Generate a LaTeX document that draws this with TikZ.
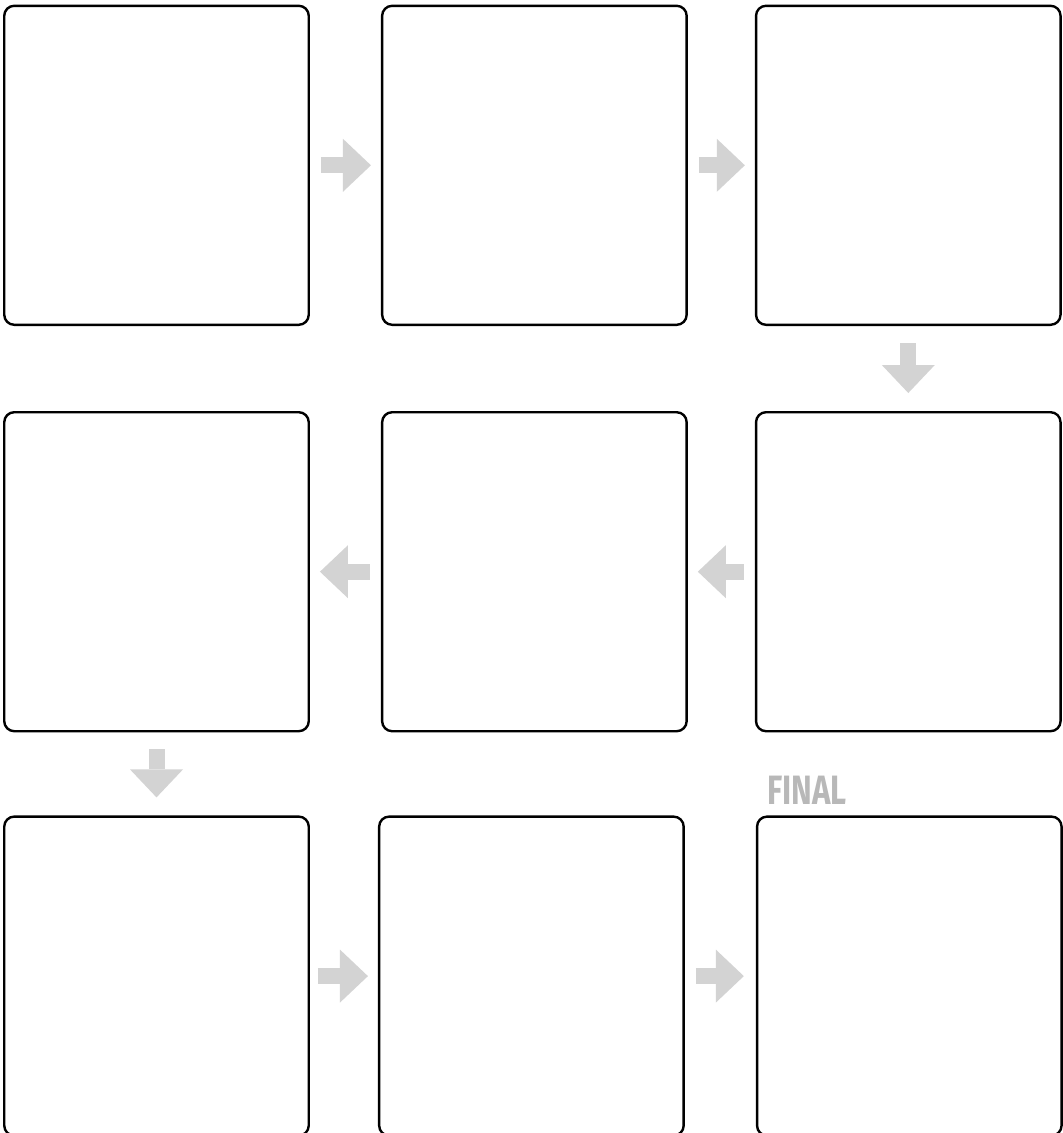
\documentclass[tikz,border=0pt]{standalone}
\usepackage{fontspec}
\usepackage{tikz}
\usetikzlibrary{arrows.meta,positioning}
\newfontfamily\labelfont{Fira Sans}[FakeStretch=0.76]
\definecolor{cFrame}{HTML}{000000}
\definecolor{cStep}{HTML}{D3D3D3}
\definecolor{cLabel}{HTML}{B8B8B8}
\tikzset{
  panel/.style={draw=cFrame, line width=2.4pt, rounded corners=10pt, fill=white,
                minimum width=304.5pt, minimum height=319pt, inner sep=0pt},
  stepflow/.style={draw=cStep, line width=16pt,
                   -{Triangle[length=28pt, width=53pt, line width=0pt, fill=cStep]}},
  hflow/.style={stepflow, shorten <=11pt, shorten >=10pt},
  vflow/.style={stepflow, shorten <=17pt, shorten >=18pt},
  tag/.style={font=\labelfont\bfseries\fontsize{41}{41}\selectfont, text=cLabel, inner sep=0pt},
}

\begin{document}
\begin{tikzpicture}[x=1pt,y=1pt]
  \useasboundingbox (0,0) rectangle (1063,-1133);
  % first row
  \node[panel] (p1) at (156.5,-165.3) {};
  \node[panel, right=71pt of p1] (p2) {};
  \node[panel, right=67pt of p2] (p3) {};
  % second row
  \node[panel, below=85pt of p3] (p4) {};
  \node[panel, left=67pt of p4] (p5) {};
  \node[panel, left=71pt of p5] (p6) {};
  % third row
  \node[panel, below=83pt of p6] (p7) {};
  \node[panel, right=68pt of p7] (p8) {};
  \node[panel, right=71pt of p8] (p9) {};
  \node[tag, anchor=south west] (final) at ([xshift=11pt,yshift=11pt]p9.north west) {FINAL};
  % arrows
  \draw[hflow] (p1) -- (p2);
  \draw[hflow] (p2) -- (p3);
  \draw[vflow] (p3) -- (p4);
  \draw[hflow] (p4) -- (p5);
  \draw[hflow] (p5) -- (p6);
  \draw[vflow] (p6) -- (p7);
  \draw[hflow, shorten <=8pt] (p7) -- (p8);
  \draw[hflow, shorten >=12pt] (p8) -- (p9);
\end{tikzpicture}
\end{document}
